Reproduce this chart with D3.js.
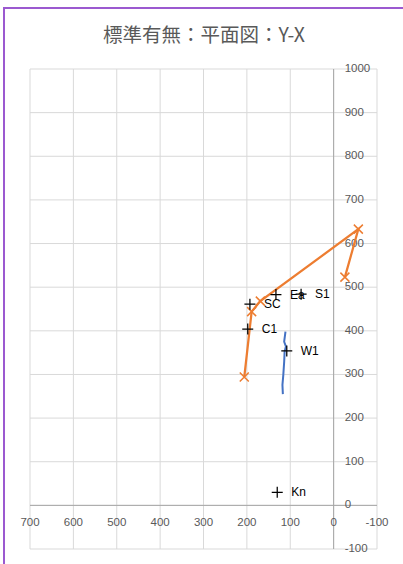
<!DOCTYPE html>
<html><head><meta charset="utf-8">
<script src="https://cdn.jsdelivr.net/npm/d3@7"></script>
<style>body{margin:0;background:#fff;}svg{display:block;}</style>
</head><body>
<script>
const title = "標準有無：平面図：Y-X";
const xTicks = [700,600,500,400,300,200,100,0,-100];
const yTicks = [-100,0,100,200,300,400,500,600,700,800,900,1000];
// orange series (X markers, line)
const orangeX = [206,189,169,-57,-26];
const orangeY = [294,444,468,633,523];
// blue line series
const blueX = [111,114,110,113,114,116,118,117];
const blueY = [398,375,364,352,329,299,276,255];
// labelled points (+ markers)
const ptNames = ["SC","Ea","S1","C1","W1","Kn"];
const ptX = [193,133,75,198,108,130];
const ptY = [461,483,484,404,354,30];

const W=403,H=564;
const svg=d3.select("body").append("svg").attr("width",W).attr("height",H);
svg.append("rect").attr("width",W).attr("height",H).attr("fill","#fff");
// frame
svg.append("path").attr("d","M4,564 L4,8 L403,8").attr("fill","none").attr("stroke","#9b59d0").attr("stroke-width",2);

svg.append("text").attr("x",204).attr("y",42).attr("text-anchor","middle")
  .attr("font-family","'Noto Sans CJK JP','Noto Sans',sans-serif").attr("font-size",19.5)
  .attr("fill","#595959").text(title);

const x=d3.scaleLinear().domain([700,-100]).range([30,377]);
const y=d3.scaleLinear().domain([-100,1000]).range([549,69]);

const g=svg.append("g");
// grid
g.selectAll(".vg").data(xTicks).join("line").attr("x1",d=>x(d)).attr("x2",d=>x(d))
  .attr("y1",y(1000)).attr("y2",y(-100)).attr("stroke","#d9d9d9").attr("stroke-width",1);
g.selectAll(".hg").data(yTicks).join("line").attr("y1",d=>y(d)).attr("y2",d=>y(d))
  .attr("x1",x(700)).attr("x2",x(-100)).attr("stroke","#d9d9d9").attr("stroke-width",1);
// axes
g.append("line").attr("x1",x(0)).attr("x2",x(0)).attr("y1",y(1000)).attr("y2",y(-100)).attr("stroke","#a6a6a6");
g.append("line").attr("y1",y(0)).attr("y2",y(0)).attr("x1",x(700)).attr("x2",x(-100)).attr("stroke","#a6a6a6");

const font="'Liberation Sans',Arial,sans-serif";
g.selectAll(".xl").data(xTicks).join("text").attr("x",d=>x(d)).attr("y",y(0)+18)
  .attr("text-anchor","middle").attr("dominant-baseline","middle").attr("font-family",font)
  .attr("font-size",11.5).attr("fill","#595959").text(d=>d);
g.selectAll(".yl").data(yTicks).join("text").attr("x",x(0)+11).attr("y",d=>y(d))
  .attr("text-anchor","start").attr("dominant-baseline","middle").attr("font-family",font)
  .attr("font-size",11.5).attr("fill","#595959").text(d=>d);

// blue line
const line=d3.line().x(d=>x(d[0])).y(d=>y(d[1]));
g.append("path").datum(blueX.map((v,i)=>[v,blueY[i]])).attr("d",line)
  .attr("fill","none").attr("stroke","#4472c4").attr("stroke-width",2).attr("stroke-linejoin","round");

// orange
const od=orangeX.map((v,i)=>[v,orangeY[i]]);
g.append("path").datum(od).attr("d",line).attr("fill","none").attr("stroke","#ed7d31").attr("stroke-width",2.25);
const s=4.5;
g.selectAll(".om").data(od).join("path")
  .attr("d",d=>{const cx=x(d[0]),cy=y(d[1]);return `M${cx-s},${cy-s}L${cx+s},${cy+s}M${cx-s},${cy+s}L${cx+s},${cy-s}`;})
  .attr("stroke","#ed7d31").attr("stroke-width",1.5);

// labelled points
const pd=ptNames.map((n,i)=>({n,x:ptX[i],y:ptY[i]}));
const p=5.5;
g.selectAll(".pm").data(pd).join("path")
  .attr("d",d=>{const cx=x(d.x),cy=y(d.y);return `M${cx-p},${cy}L${cx+p},${cy}M${cx},${cy-p}L${cx},${cy+p}`;})
  .attr("stroke","#000").attr("stroke-width",1.25);
g.selectAll(".pl").data(pd).join("text").attr("x",d=>x(d.x)+14).attr("y",d=>y(d.y)+1)
  .attr("dominant-baseline","middle").attr("font-family",font).attr("font-size",12)
  .attr("fill","#000").text(d=>d.n);
</script>
</body></html>
